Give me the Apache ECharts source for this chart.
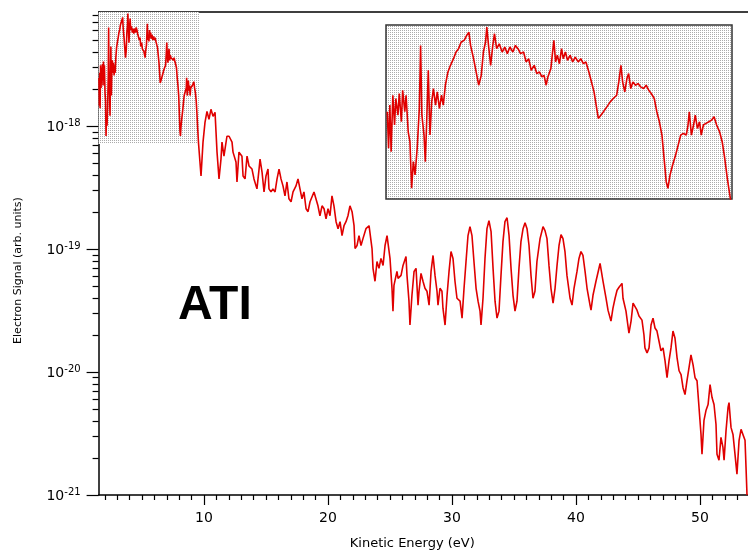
<!DOCTYPE html>
<html>
<head>
<meta charset="utf-8">
<script src="https://cdn.jsdelivr.net/npm/echarts@6/dist/echarts.min.js"></script>
<style>
html,body{margin:0;padding:0;background:#ffffff;}
#chart{width:748px;height:555px;}
</style>
</head>
<body>
<div id="chart"></div>
<script>
// ---------------- values ----------------
// axis ranges
const energyRange = [1.5, 53.87];            // eV
const signalLogRange = [-21, -17.07];        // log10(signal)
const insetEnergyRange = [1.5, 9.6];
const insetSignalLogRange = [-18.145, -17.07];
// tick labels
const xTickLabels = [10, 20, 30, 40, 50];
const yTickExponents = [-21, -20, -19, -18];
const annotationText = 'ATI';

// spectrum: [kinetic energy (eV), log10 electron signal]
const segLow = [
[1.53,-17.606],[1.56,-17.832],[1.59,-17.565],[1.62,-17.853],[1.66,-17.504],[1.70,-17.688],[1.73,-17.524],[1.78,-17.627],
[1.81,-17.493],[1.86,-17.668],[1.89,-17.473],[1.94,-17.606],[1.97,-17.504],[2.02,-17.730],[2.06,-17.791],[2.10,-18.079],
[2.14,-17.914],[2.18,-17.996],[2.23,-17.832],[2.28,-17.586],[2.31,-17.196],[2.34,-17.627],[2.39,-17.750],[2.42,-17.914],
[2.45,-17.688],[2.49,-17.350],[2.53,-17.750],[2.57,-17.545],[2.61,-17.463],[2.66,-17.565],[2.70,-17.483],[2.75,-17.586],
[2.80,-17.504],[2.84,-17.565],[2.89,-17.442],[2.95,-17.360],[3.01,-17.319],[3.08,-17.278],[3.14,-17.237],[3.20,-17.216],
[3.26,-17.175],[3.33,-17.165],[3.39,-17.134],[3.44,-17.114],[3.48,-17.196],[3.55,-17.278],[3.61,-17.360],[3.67,-17.442],
[3.73,-17.381],[3.78,-17.237],[3.83,-17.175],[3.86,-17.083],[3.90,-17.196],[3.95,-17.319],[4.00,-17.196],[4.04,-17.124],
[4.09,-17.216],[4.15,-17.186],[4.22,-17.237],[4.28,-17.206],[4.34,-17.247],[4.40,-17.206],[4.47,-17.237],[4.53,-17.196],
[4.59,-17.216],[4.65,-17.247],[4.72,-17.237],[4.78,-17.298],[4.84,-17.278],[4.90,-17.350],[4.97,-17.319],[5.03,-17.370],
[5.09,-17.360],[5.15,-17.391],[5.20,-17.381],[5.25,-17.442],[5.29,-17.391],[5.36,-17.339],[5.40,-17.237],[5.43,-17.165],
[5.47,-17.298],[5.51,-17.257],[5.56,-17.309],[5.61,-17.216],[5.65,-17.278],[5.70,-17.237],[5.75,-17.288],[5.81,-17.257],
[5.87,-17.298],[5.93,-17.268],[6.00,-17.298],[6.06,-17.278],[6.12,-17.309],[6.18,-17.298],[6.25,-17.360],[6.31,-17.422],
[6.37,-17.483],[6.42,-17.565],[6.47,-17.647],[6.53,-17.627],[6.59,-17.606],[6.67,-17.576],[6.75,-17.545],[6.82,-17.524],
[6.90,-17.504],[6.95,-17.422],[7.00,-17.319],[7.04,-17.422],[7.09,-17.483],[7.14,-17.401],[7.18,-17.370],[7.23,-17.463],
[7.28,-17.422],[7.34,-17.442],[7.40,-17.432],[7.46,-17.452],[7.53,-17.463],[7.59,-17.442],[7.65,-17.473],[7.71,-17.493],
[7.78,-17.524],[7.84,-17.606],[7.90,-17.668],[7.96,-17.750],[8.01,-17.894],[8.06,-18.038],[8.10,-18.079],[8.15,-17.996],
[8.21,-17.935],[8.28,-17.873],[8.34,-17.812],[8.40,-17.750],[8.46,-17.740],[8.53,-17.750],[8.57,-17.688],[8.60,-17.606],
[8.65,-17.750],[8.70,-17.688],[8.74,-17.627],[8.79,-17.709],[8.84,-17.668],[8.88,-17.750],[8.93,-17.688],[8.99,-17.678],
[9.06,-17.668],[9.12,-17.658],[9.18,-17.637],[9.24,-17.688],[9.31,-17.730],[9.37,-17.791],[9.43,-17.894],[9.49,-18.017],
[9.56,-18.140]
];
const segPlateau = [
[9.76,-18.404],[9.92,-18.129],[10.08,-17.968],[10.24,-17.879],[10.40,-17.943],[10.56,-17.862],[10.73,-17.919],[10.89,-17.887],
[10.97,-18.048],[11.05,-18.210],[11.21,-18.428],[11.37,-18.267],[11.45,-18.129],[11.61,-18.243],[11.85,-18.081],[12.02,-18.081],
[12.26,-18.129],[12.34,-18.210],[12.58,-18.291],[12.66,-18.453],[12.82,-18.210],[13.06,-18.243],[13.15,-18.404],[13.31,-18.428],
[13.47,-18.243],[13.63,-18.323],[13.87,-18.348],[14.03,-18.428],[14.27,-18.509],[14.44,-18.348],[14.52,-18.267],[14.68,-18.372],
[14.84,-18.534],[15.00,-18.404],[15.16,-18.348],[15.24,-18.509],[15.40,-18.534],[15.56,-18.509],[15.73,-18.534],[15.89,-18.428],
[16.05,-18.348],[16.21,-18.428],[16.37,-18.485],[16.53,-18.566],[16.69,-18.453],[16.85,-18.590],[17.02,-18.614],[17.18,-18.534],
[17.42,-18.485],[17.58,-18.428],[17.74,-18.509],[17.90,-18.590],[18.06,-18.534],[18.23,-18.671],[18.39,-18.695],[18.55,-18.614],
[18.71,-18.614],[18.87,-18.534],[19.03,-18.550],[19.19,-18.647],[19.35,-18.728],[19.52,-18.647],[19.68,-18.671],[19.84,-18.752],
[20.00,-18.671],[20.16,-18.728],[20.32,-18.566],[20.48,-18.647],[20.65,-18.776],[20.81,-18.833],[20.97,-18.776],[21.13,-18.889],
[21.29,-18.809],[21.45,-18.776],[21.61,-18.728],[21.77,-18.647],[21.94,-18.695],[22.10,-18.809],[22.18,-18.995],[22.34,-18.970],
[22.50,-18.889],[22.66,-18.970],[22.82,-18.914],[23.06,-18.833],[23.31,-18.809],[23.55,-18.995],[23.63,-19.156],[23.79,-19.261],
[23.95,-19.100],[24.11,-19.156],[24.27,-19.075],[24.44,-19.132],[24.60,-18.970],[24.76,-18.889],[25.00,-19.075]
];
const segOscillation = [
[25.16,-19.318],[25.24,-19.504],[25.32,-19.294],[25.56,-19.181],[25.65,-19.237],[25.89,-19.213],[26.05,-19.132],[26.29,-19.059],
[26.37,-19.213],[26.53,-19.423],[26.61,-19.617],[26.77,-19.375],[26.94,-19.181],[27.10,-19.156],[27.26,-19.455],[27.34,-19.342],
[27.50,-19.197],[27.66,-19.261],[27.82,-19.318],[27.98,-19.342],[28.15,-19.455],[28.31,-19.181],[28.47,-19.051],[28.63,-19.213],
[28.79,-19.342],[28.87,-19.455],[29.03,-19.318],[29.19,-19.342],[29.27,-19.480],[29.44,-19.617],[29.60,-19.375],[29.76,-19.181],
[29.92,-19.019],[30.08,-19.075],[30.24,-19.261],[30.40,-19.399],[30.65,-19.423],[30.81,-19.561],[30.97,-19.318],[31.13,-19.100],
[31.29,-18.889],[31.45,-18.817],[31.61,-18.889],[31.77,-19.100],[31.94,-19.318],[32.10,-19.423],[32.26,-19.504],[32.34,-19.617],
[32.50,-19.399],[32.66,-19.075],[32.82,-18.833],[32.98,-18.768],[33.15,-18.857],[33.31,-19.156],[33.47,-19.423],[33.63,-19.561],
[33.79,-19.504],[33.95,-19.213],[34.11,-18.938],[34.27,-18.776],[34.44,-18.744],[34.60,-18.889],[34.76,-19.156],[34.92,-19.375],
[35.08,-19.504],[35.24,-19.423],[35.40,-19.156],[35.56,-18.938],[35.73,-18.833],[35.89,-18.784],[36.05,-18.833],[36.21,-18.970],
[36.37,-19.213],[36.53,-19.399],[36.69,-19.342],[36.85,-19.100],[37.10,-18.914],[37.34,-18.817],[37.50,-18.849],[37.66,-18.914],
[37.82,-19.132],[37.98,-19.318],[38.15,-19.439],[38.31,-19.318],[38.47,-19.132],[38.63,-18.970],[38.79,-18.881],[38.95,-18.914],
[39.11,-19.019],[39.27,-19.213],[39.52,-19.399],[39.68,-19.455],[39.84,-19.318],[40.08,-19.181],[40.24,-19.075],[40.40,-19.019],
[40.56,-19.051],[40.73,-19.181],[40.89,-19.318],[41.13,-19.455],[41.21,-19.496],[41.37,-19.375],[41.61,-19.261],[41.77,-19.253],
[41.94,-19.116],[42.10,-19.132],[42.18,-19.261],[42.42,-19.399],[42.58,-19.496],[42.82,-19.585],[42.98,-19.480],[43.15,-19.399],
[43.31,-19.334],[43.47,-19.310],[43.71,-19.278],[43.79,-19.399],[44.03,-19.504],[44.19,-19.625],[44.27,-19.682],[44.44,-19.585],
[44.60,-19.439],[44.76,-19.423],[44.92,-19.496]
];
const segTail = [
[45.08,-19.544],[45.32,-19.577],[45.48,-19.698],[45.56,-19.803],[45.73,-19.844],[45.89,-19.803],[46.05,-19.617],[46.21,-19.561],
[46.37,-19.641],[46.53,-19.666],[46.69,-19.747],[46.85,-19.827],[47.02,-19.803],[47.18,-19.908],[47.34,-20.046],[47.50,-19.908],
[47.66,-19.803],[47.82,-19.666],[47.98,-19.722],[48.15,-19.884],[48.31,-19.989],[48.47,-20.021],[48.63,-20.127],[48.79,-20.183],
[48.95,-20.070],[49.11,-19.965],[49.27,-19.860],[49.44,-19.941],[49.60,-20.046],[49.76,-20.070],[49.92,-20.288],[50.08,-20.507],
[50.16,-20.668],[50.32,-20.393],[50.48,-20.313],[50.65,-20.264],[50.81,-20.102],[50.97,-20.207],[51.13,-20.264],[51.29,-20.426],
[51.37,-20.668],[51.53,-20.717],[51.69,-20.531],[51.85,-20.612],[51.94,-20.717],[52.10,-20.474],[52.26,-20.288],[52.34,-20.248],
[52.50,-20.450],[52.66,-20.507],[52.82,-20.668],[52.98,-20.830],[53.15,-20.555],[53.31,-20.466],[53.47,-20.450],[53.63,-20.555],
[53.71,-20.773],[53.79,-21.000]
];

// ---------------- build chart ----------------
const spectrum = segLow.concat(segPlateau, segOscillation, segTail)
  .map(p => [p[0], Math.pow(10, p[1])]);

// log-axis minor tick positions (2..9 x 10^k), in log10 units
const yMinorTicks = [];
for (let k = -21; k <= -18; k++) {
  for (let m = 2; m <= 9; m++) {
    const v = k + Math.log10(m);
    if (v < signalLogRange[1]) yMinorTicks.push(v);
  }
}
const xMinorTicks = [];
for (let e = 2; e <= 53; e++) if (e % 10 !== 0) xMinorTicks.push(e);

function dotPattern() {
  const c = document.createElement('canvas');
  c.width = 2; c.height = 2;
  const g = c.getContext('2d');
  g.fillStyle = '#ffffff'; g.fillRect(0, 0, 2, 2);
  g.fillStyle = '#ababab'; g.fillRect(0, 0, 1, 1);
  return { image: c, repeat: 'repeat' };
}
const pattern = dotPattern();

const FONT = '"DejaVu Sans", sans-serif';
const RED = '#e00000';
const BLACK = '#000000';

const chart = echarts.init(document.getElementById('chart'), null, { renderer: 'canvas' });
chart.setOption({
  animation: false,
  backgroundColor: '#ffffff',
  grid: [
    { left: 98.6, right: 0, top: 12, bottom: 57, show: false },
    { left: 386, top: 25, width: 346, height: 174, show: true,
      backgroundColor: pattern, borderColor: '#333333', borderWidth: 1.5 }
  ],
  xAxis: [
    { type: 'value', gridIndex: 0, position: 'bottom', min: energyRange[0], max: energyRange[1],
      axisLine: { show: true, onZero: false, lineStyle: { color: BLACK, width: 1.5 } },
      axisTick: { show: true, customValues: xTickLabels, length: 10, lineStyle: { color: BLACK, width: 1.2 } },
      axisLabel: { show: true, customValues: xTickLabels, margin: 16, color: BLACK, fontFamily: FONT, fontSize: 14 },
      splitLine: { show: false },
      name: 'Kinetic Energy (eV)', nameLocation: 'middle', nameGap: 42,
      nameTextStyle: { color: BLACK, fontFamily: FONT, fontSize: 13, padding: [0, 22, 0, 0] } },
    { type: 'value', gridIndex: 0, position: 'bottom', min: energyRange[0], max: energyRange[1],
      axisLine: { show: false, onZero: false },
      axisTick: { show: true, customValues: xMinorTicks, length: 5, lineStyle: { color: BLACK, width: 1.2 } },
      axisLabel: { show: false }, splitLine: { show: false } },
    { type: 'value', gridIndex: 0, position: 'top', min: energyRange[0], max: energyRange[1],
      axisLine: { show: true, onZero: false, lineStyle: { color: BLACK, width: 1.5 } },
      axisTick: { show: false }, axisLabel: { show: false }, splitLine: { show: false } },
    { type: 'value', gridIndex: 1, min: insetEnergyRange[0], max: insetEnergyRange[1], show: false,
      splitLine: { show: false } }
  ],
  yAxis: [
    { type: 'log', logBase: 10, gridIndex: 0, position: 'left',
      min: Math.pow(10, signalLogRange[0]), max: Math.pow(10, signalLogRange[1]),
      axisLine: { show: true, onZero: false, lineStyle: { color: BLACK, width: 1.5 } },
      axisTick: { show: false }, axisLabel: { show: false }, splitLine: { show: false }, minorTick: { show: false } },
    { type: 'value', gridIndex: 0, position: 'left', min: signalLogRange[0], max: signalLogRange[1],
      axisLine: { show: false, onZero: false },
      axisTick: { show: true, customValues: yTickExponents, length: 12, lineStyle: { color: BLACK, width: 1.2 } },
      axisLabel: { show: true, customValues: yTickExponents, margin: 18,
        formatter: v => '{b|10}{s|' + v + '}',
        rich: {
          b: { fontFamily: FONT, fontSize: 14, color: BLACK, lineHeight: 16, verticalAlign: 'bottom', padding: [6, 0, 0, 0] },
          s: { fontFamily: FONT, fontSize: 10, color: BLACK, lineHeight: 9, verticalAlign: 'top' }
        } },
      splitLine: { show: false },
      name: 'Electron Signal (arb. units)', nameLocation: 'middle', nameGap: 75,
      nameTextStyle: { color: BLACK, fontFamily: FONT, fontSize: 11, padding: [0, 34, 0, 0] } },
    { type: 'value', gridIndex: 0, position: 'left', min: signalLogRange[0], max: signalLogRange[1],
      axisLine: { show: false, onZero: false },
      axisTick: { show: true, customValues: yMinorTicks, length: 6, lineStyle: { color: BLACK, width: 1.2 } },
      axisLabel: { show: false }, splitLine: { show: false } },
    { type: 'log', logBase: 10, gridIndex: 1,
      min: Math.pow(10, insetSignalLogRange[0]), max: Math.pow(10, insetSignalLogRange[1]),
      show: false, splitLine: { show: false } }
  ],
  graphic: [
    { type: 'text', left: 178, top: 282, z: 10,
      style: { text: annotationText, font: 'bold 48px "Liberation Sans", Arial, sans-serif', fill: BLACK } }
  ],
  series: [
    { type: 'line', name: 'spectrum', xAxisIndex: 0, yAxisIndex: 0, data: spectrum,
      symbol: 'none', showSymbol: false, z: 3,
      lineStyle: { color: RED, width: 1.6 },
      markArea: { silent: true, z: 1, itemStyle: { color: pattern, borderWidth: 0 },
        data: [[ { xAxis: insetEnergyRange[0], yAxis: Math.pow(10, insetSignalLogRange[0]) },
                 { xAxis: insetEnergyRange[1], yAxis: Math.pow(10, insetSignalLogRange[1]) } ]] } },
    { type: 'line', name: 'inset', xAxisIndex: 3, yAxisIndex: 3, data: spectrum,
      symbol: 'none', showSymbol: false, z: 3, clip: true,
      lineStyle: { color: RED, width: 1.6 } }
  ]
});
</script>
</body>
</html>
